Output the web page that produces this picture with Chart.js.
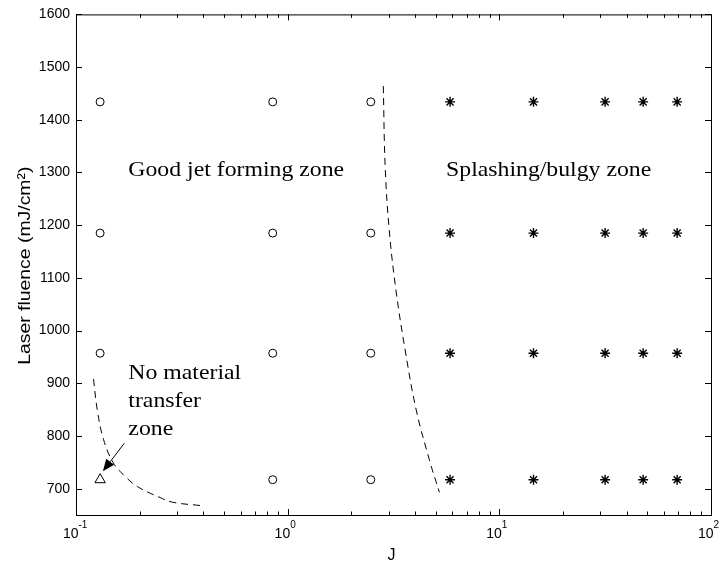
<!DOCTYPE html>
<html>
<head>
<meta charset="utf-8">
<script src="https://cdn.jsdelivr.net/npm/chart.js@4/dist/chart.umd.min.js"></script>
<style>
html,body{margin:0;padding:0;background:#fff;}
#wrap{width:722px;height:569px;position:relative;}
</style>
</head>
<body>
<div id="wrap"><canvas id="c"></canvas></div>
<script>
// ---- data ----
// Good jet forming zone (circles)
const goodJetJ = [0.13, 0.85, 2.47, 0.13, 0.85, 2.47, 0.13, 0.85, 2.47, 0.85, 2.47];
const goodJetF = [1434, 1434, 1434, 1185, 1185, 1185, 957, 957, 957, 717, 717];
// Splashing / bulgy zone (stars)
const splashJ = [5.85, 14.5, 31.6, 47.8, 69.2, 5.85, 14.5, 31.6, 47.8, 69.2, 5.85, 14.5, 31.6, 47.8, 69.2, 5.85, 14.5, 31.6, 47.8, 69.2];
const splashF = [1434, 1434, 1434, 1434, 1434, 1185, 1185, 1185, 1185, 1185, 957, 957, 957, 957, 957, 717, 717, 717, 717, 717];
// No material transfer (triangle)
const noTransferJ = [0.13];
const noTransferF = [717];
// Boundary curves (dashed)
const lowBoundaryJ = [0.121, 0.126, 0.135, 0.150, 0.167, 0.195, 0.250, 0.288, 0.386];
const lowBoundaryF = [908, 850, 793, 749, 727, 704, 683, 674, 668];
const splashBoundaryJ = [2.83, 2.89, 3.02, 3.25, 3.59, 4.05, 4.67, 5.21];
const splashBoundaryF = [1464, 1309, 1190, 1076, 963, 849, 755, 693];
// Arrow (tail -> head) pointing at the triangle
const arrowJ = [0.169, 0.134];
const arrowF = [786, 733];
// Axis ticks
const xMajorTicks = [0.1, 1, 10, 100];
const xTickExponents = ['-1', '0', '1', '2'];
const xMinorMultipliers = [2, 3, 4, 5, 6, 7, 8, 9];
const yTickValues = [700, 800, 900, 1000, 1100, 1200, 1300, 1400, 1500, 1600];

const pts = (xs, ys) => xs.map((v, i) => ({x: v, y: ys[i]}));

const SANS = '"Liberation Sans", Arial, sans-serif';
const SERIF = '"Liberation Serif", "Times New Roman", serif';

const decor = {
  id: 'decor',
  afterDraw(chart, args, opts) {
    const {ctx, chartArea: a, scales: {x, y}} = chart;
    ctx.save();
    ctx.strokeStyle = '#000';
    ctx.fillStyle = '#000';
    ctx.lineWidth = 1;
    ctx.setLineDash([]);
    // box
    ctx.strokeRect(a.left + 0.5, a.top + 0.5, a.right - a.left, a.bottom - a.top);
    ctx.beginPath();
    // x ticks (inward, bottom and top)
    xMajorTicks.forEach((base, i) => {
      const p = Math.round(x.getPixelForValue(base)) + 0.5;
      ctx.moveTo(p, a.bottom); ctx.lineTo(p, a.bottom - 6);
      ctx.moveTo(p, a.top); ctx.lineTo(p, a.top + 6);
      if (i < xMajorTicks.length - 1) {
        xMinorMultipliers.forEach(m => {
          const q = Math.round(x.getPixelForValue(base * m)) + 0.5;
          ctx.moveTo(q, a.bottom); ctx.lineTo(q, a.bottom - 3.5);
          ctx.moveTo(q, a.top); ctx.lineTo(q, a.top + 3.5);
        });
      }
    });
    // y ticks (inward, left and right)
    yTickValues.forEach(v => {
      const p = Math.round(y.getPixelForValue(v)) + 0.5;
      ctx.moveTo(a.left, p); ctx.lineTo(a.left + 6, p);
      ctx.moveTo(a.right, p); ctx.lineTo(a.right - 6, p);
    });
    ctx.stroke();

    // x tick labels with superscript exponents
    ctx.textBaseline = 'alphabetic';
    xMajorTicks.forEach((base, i) => {
      const p = x.getPixelForValue(base);
      ctx.font = '14px ' + SANS;
      ctx.textAlign = 'right';
      ctx.fillText('10', p + 2.5, a.bottom + 23);
      ctx.font = '10px ' + SANS;
      ctx.textAlign = 'left';
      ctx.fillText(xTickExponents[i], p + 2.5, a.bottom + 13);
    });

    // axis titles
    ctx.font = '16px ' + SANS;
    ctx.textAlign = 'center';
    ctx.fillText('J', (a.left + a.right) / 2 - 2, a.bottom + 45);
    ctx.save();
    ctx.translate(30, (a.top + a.bottom) / 2 + 1);
    ctx.rotate(-Math.PI / 2);
    ctx.scale(1.14, 1);
    ctx.font = '17px ' + SANS;
    ctx.fillText('Laser fluence (mJ/cm\u00B2)', 0, 0);
    ctx.restore();

    // zone annotations
    ctx.font = '22px ' + SERIF;
    ctx.textAlign = 'left';
    opts.notes.forEach(n => {
      const px = x.getPixelForValue(n.J);
      const py = y.getPixelForValue(n.F);
      n.lines.forEach((t, k) => {
        ctx.save();
        ctx.translate(px, py + k * 28);
        ctx.scale(1.08, 1);
        ctx.fillText(t, 0, 0);
        ctx.restore();
      });
    });

    // arrow
    const x0 = x.getPixelForValue(arrowJ[0]), y0 = y.getPixelForValue(arrowF[0]);
    const x1 = x.getPixelForValue(arrowJ[1]), y1 = y.getPixelForValue(arrowF[1]);
    const ang = Math.atan2(y1 - y0, x1 - x0);
    const hl = 12, hw = 5;
    const bx = x1 - hl * Math.cos(ang), by = y1 - hl * Math.sin(ang);
    ctx.beginPath();
    ctx.moveTo(x0, y0); ctx.lineTo(bx, by);
    ctx.stroke();
    ctx.beginPath();
    ctx.moveTo(x1, y1);
    ctx.lineTo(bx + hw * Math.sin(ang), by - hw * Math.cos(ang));
    ctx.lineTo(bx - hw * Math.sin(ang), by + hw * Math.cos(ang));
    ctx.closePath();
    ctx.fill();
    ctx.restore();
  }
};

new Chart(document.getElementById('c'), {
  type: 'scatter',
  data: {
    datasets: [
      {label: 'Good jet', data: pts(goodJetJ, goodJetF), pointStyle: 'circle', pointRadius: 4,
       borderColor: '#000', backgroundColor: 'rgba(0,0,0,0)', borderWidth: 1},
      {label: 'Splashing', data: pts(splashJ, splashF), pointStyle: 'star', pointRadius: 5,
       borderColor: '#000', backgroundColor: '#000', borderWidth: 1.4},
      {label: 'No transfer', data: pts(noTransferJ, noTransferF), pointStyle: 'triangle', pointRadius: 6,
       borderColor: '#000', backgroundColor: 'rgba(0,0,0,0)', borderWidth: 1},
      {label: 'Low boundary', data: pts(lowBoundaryJ, lowBoundaryF), showLine: true, pointRadius: 0,
       borderColor: '#000', borderWidth: 1, borderDash: [7, 5], tension: 0.4, fill: false},
      {label: 'Splash boundary', data: pts(splashBoundaryJ, splashBoundaryF), showLine: true, pointRadius: 0,
       borderColor: '#000', borderWidth: 1, borderDash: [7, 5], tension: 0.4, fill: false}
    ]
  },
  options: {
    responsive: true,
    maintainAspectRatio: false,
    animation: false,
    layout: {padding: {left: 0, right: 11, top: 13, bottom: 0}},
    plugins: {
      legend: {display: false},
      tooltip: {enabled: false},
      decor: {
        notes: [
          {lines: ['Good jet forming zone'], J: 0.1767, F: 1294},
          {lines: ['Splashing/bulgy zone'], J: 5.6, F: 1294},
          {lines: ['No material', 'transfer', 'zone'], J: 0.1767, F: 908}
        ]
      }
    },
    scales: {
      x: {
        type: 'logarithmic', min: 0.1, max: 100,
        grid: {display: false, drawTicks: false},
        border: {display: false},
        ticks: {display: false},
        afterFit: s => { s.height = 54; }
      },
      y: {
        type: 'linear', min: 650, max: 1600,
        grid: {display: false, drawTicks: false},
        border: {display: false},
        afterBuildTicks: s => { s.ticks = yTickValues.map(v => ({value: v})); },
        ticks: {color: '#000', font: {family: SANS, size: 14}, padding: 6,
                callback: v => String(v)},
        afterFit: s => { s.width = 76; }
      }
    }
  },
  plugins: [decor]
});
</script>
</body>
</html>
